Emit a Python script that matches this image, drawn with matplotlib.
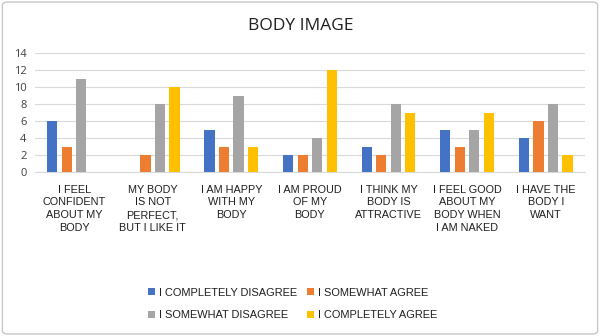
import matplotlib
matplotlib.use("Agg")
import matplotlib.pyplot as plt
import numpy as np
from matplotlib.patches import FancyBboxPatch

categories = [
    "I FEEL\nCONFIDENT\nABOUT MY\nBODY",
    "MY BODY\nIS NOT\nPERFECT,\nBUT I LIKE IT",
    "I AM HAPPY\nWITH MY\nBODY",
    "I AM PROUD\nOF MY\nBODY",
    "I THINK MY\nBODY IS\nATTRACTIVE",
    "I FEEL GOOD\nABOUT MY\nBODY WHEN\nI AM NAKED",
    "I HAVE THE\nBODY I\nWANT",
]
completely_disagree = [6, 0, 5, 2, 3, 5, 4]
somewhat_agree = [3, 2, 3, 2, 2, 3, 6]
somewhat_disagree = [11, 8, 9, 4, 8, 5, 8]
completely_agree = [0, 10, 3, 12, 7, 7, 2]
y_ticks = [0, 2, 4, 6, 8, 10, 12, 14]

series = [
    ("I COMPLETELY DISAGREE", completely_disagree, "#4472C4"),
    ("I SOMEWHAT AGREE", somewhat_agree, "#ED7D31"),
    ("I SOMEWHAT DISAGREE", somewhat_disagree, "#A5A5A5"),
    ("I COMPLETELY AGREE", completely_agree, "#FFC000"),
]

fig = plt.figure(figsize=(6.0, 3.36), dpi=100)
fig.patch.set_facecolor("white")
fig.patches.append(FancyBboxPatch((0.004, 0.006), 0.992, 0.988,
                                  boxstyle="round,pad=0,rounding_size=0.01",
                                  transform=fig.transFigure, fill=False,
                                  edgecolor="#C8C8C8", linewidth=1.0))

ax = fig.add_axes([0.058, 0.488, 0.917, 0.354])
x = np.arange(len(categories))
slot = 0.185
width = 0.13
handles = {}
for i, (name, vals, color) in enumerate(series):
    h = ax.bar(x + (i - 1.5) * slot, vals, width, color=color, label=name, zorder=3)
    handles[name] = h

ax.set_xlim(-0.5, len(categories) - 0.5)
ax.set_ylim(0, 14)
ax.set_yticks(y_ticks)
ax.set_yticklabels([str(t) for t in y_ticks], fontfamily="Open Sans", fontsize=8, color="#404040")
ax.set_xticks(x)
ax.set_xticklabels(categories, fontfamily="Liberation Sans", fontsize=7.8,
                   color="#1F1F1F", linespacing=1.35, va="top")
ax.tick_params(axis="both", length=0)
ax.tick_params(axis="x", pad=9)
ax.tick_params(axis="y", pad=6)
ax.grid(axis="y", color="#D9D9D9", linewidth=0.8, zorder=0)
for side in ["top", "right", "left"]:
    ax.spines[side].set_visible(False)
ax.spines["bottom"].set_color("#D9D9D9")
ax.spines["bottom"].set_linewidth(0.8)

fig.text(0.502, 0.922, "BODY IMAGE", ha="center", va="center",
         fontfamily="Open Sans", fontsize=12.5, color="#1F1F1F")

order = ["I COMPLETELY DISAGREE", "I SOMEWHAT DISAGREE", "I SOMEWHAT AGREE", "I COMPLETELY AGREE"]
leg = fig.legend([handles[n] for n in order], order, ncol=2, loc="center",
                 bbox_to_anchor=(0.488, 0.095), frameon=False,
                 prop={"family": "Liberation Sans", "size": 7.9},
                 handlelength=0.6, handleheight=0.6, handletextpad=0.4,
                 columnspacing=0.9, labelspacing=1.15, labelcolor="#1F1F1F")

fig.savefig("out.png", dpi=100)
